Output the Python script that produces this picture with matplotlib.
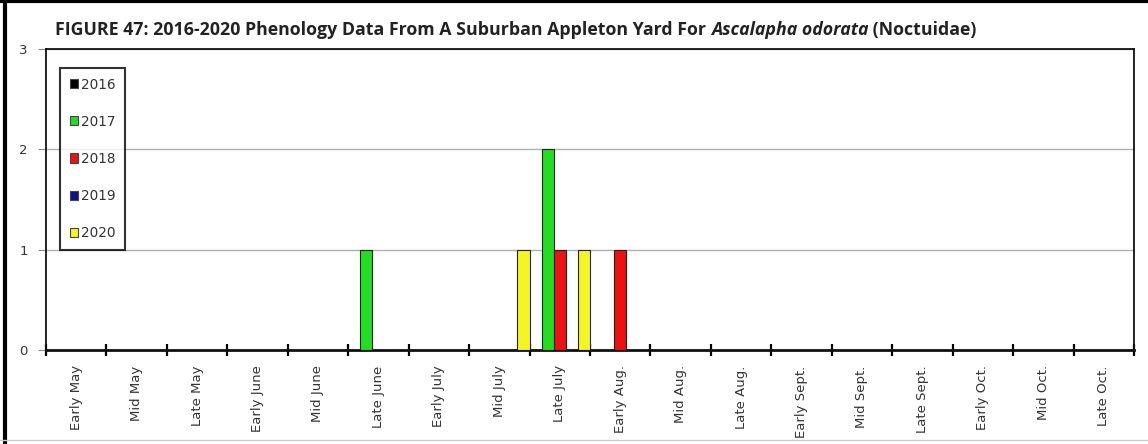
import matplotlib
matplotlib.use("Agg")
import matplotlib.pyplot as plt
import numpy as np
from matplotlib.patches import Rectangle
from matplotlib.lines import Line2D

categories = ["Early May", "Mid May", "Late May", "Early June", "Mid June", "Late June",
              "Early July", "Mid July", "Late July", "Early Aug.", "Mid Aug.", "Late Aug.",
              "Early Sept.", "Mid Sept.", "Late Sept.", "Early Oct.", "Mid Oct.", "Late Oct."]
years = ["2016", "2017", "2018", "2019", "2020"]
v2016 = [0, 0, 0, 0, 0, 0, 0, 0, 0, 0, 0, 0, 0, 0, 0, 0, 0, 0]
v2017 = [0, 0, 0, 0, 0, 1, 0, 0, 2, 0, 0, 0, 0, 0, 0, 0, 0, 0]
v2018 = [0, 0, 0, 0, 0, 0, 0, 0, 1, 1, 0, 0, 0, 0, 0, 0, 0, 0]
v2019 = [0, 0, 0, 0, 0, 0, 0, 0, 0, 0, 0, 0, 0, 0, 0, 0, 0, 0]
v2020 = [0, 0, 0, 0, 0, 0, 0, 1, 1, 0, 0, 0, 0, 0, 0, 0, 0, 0]
series = [v2016, v2017, v2018, v2019, v2020]
colors = ["#000000", "#22dd22", "#ee1111", "#101090", "#f5f522"]

fig = plt.figure(figsize=(11.48, 4.44), dpi=100)
ax = fig.add_axes([46/1148, 1-350/444, (1134-46)/1148, (350-49)/444])

n = len(years)
w = 1.0 / n
x = np.arange(len(categories))
for j, (vals, c) in enumerate(zip(series, colors)):
    ax.bar(x + (j - (n-1)/2) * w, vals, width=w, color=c, edgecolor="#222222",
           linewidth=0.8, zorder=3)

ax.set_xlim(-0.5, len(categories) - 0.5)
ax.set_ylim(0, 3)
ax.set_yticks([0, 1, 2, 3])
ax.tick_params(axis="y", length=6, color="#888888", labelsize=9.5, labelcolor="#333333", pad=7)
ax.yaxis.grid(True, color="#b0b0b0", linewidth=1.0, zorder=0)

ax.set_xticks(x)
ax.set_xticklabels(categories, rotation=90, fontsize=9.5, color="#333333")
ax.tick_params(axis="x", which="major", length=0, pad=11)
ax.set_xticks(np.arange(len(categories) + 1) - 0.5, minor=True)
ax.tick_params(axis="x", which="minor", length=8, width=1.6, direction="inout", color="black")

for s in ["left", "top", "right"]:
    ax.spines[s].set_linewidth(1.3)
    ax.spines[s].set_color("#111111")
ax.spines["bottom"].set_linewidth(2.0)
ax.spines["bottom"].set_color("#111111")

handles = [Rectangle((0, 0), 1, 1, facecolor=c, edgecolor="#444444", linewidth=0.8) for c in colors]
leg = ax.legend(handles, years, loc="upper left", bbox_to_anchor=(60/1148, 1-68/444),
                bbox_transform=fig.transFigure, frameon=True, fancybox=False,
                fontsize=9.8, labelspacing=1.7, handlelength=0.65, handleheight=0.65,
                handletextpad=0.2, borderpad=0.7, borderaxespad=0)
leg.get_frame().set_edgecolor("black")
leg.get_frame().set_linewidth(1.5)
for t in leg.get_texts():
    t.set_color("#333333")

# Title with italic species name
tx = 55/1148
ty = 1 - 30/444
fs = 12.8
t1 = fig.text(tx, ty, "FIGURE 47: 2016-2020 Phenology Data From A Suburban Appleton Yard For ",
              fontsize=fs, fontweight="bold", family="Open Sans", va="center", ha="left", color="#222222")
t2 = fig.text(0, 0, "Ascalapha odorata", fontsize=fs, fontweight="bold", style="italic",
              family="Open Sans", color="#222222")
t3 = fig.text(0, 0, " (Noctuidae)", fontsize=fs, fontweight="bold", family="Open Sans", color="#222222")
fig.canvas.draw()
r = fig.canvas.get_renderer()
bb1 = t1.get_window_extent(r)
t2.set_position(((bb1.x1) / fig.bbox.width, ty))
t2.set_va("center")
fig.canvas.draw()
bb2 = t2.get_window_extent(r)
t3.set_position((bb2.x1 / fig.bbox.width, ty))
t3.set_va("center")

# Outer frame lines (top and left thick, bottom light)
fig.add_artist(Line2D([0, 1], [1 - 1.5/444, 1 - 1.5/444], transform=fig.transFigure, color="black", linewidth=3))
fig.add_artist(Line2D([5/1148, 5/1148], [0, 1], transform=fig.transFigure, color="black", linewidth=3))
fig.add_artist(Line2D([0, 1], [4/444, 4/444], transform=fig.transFigure, color="#cccccc", linewidth=1))

fig.savefig("out.png", dpi=100)
